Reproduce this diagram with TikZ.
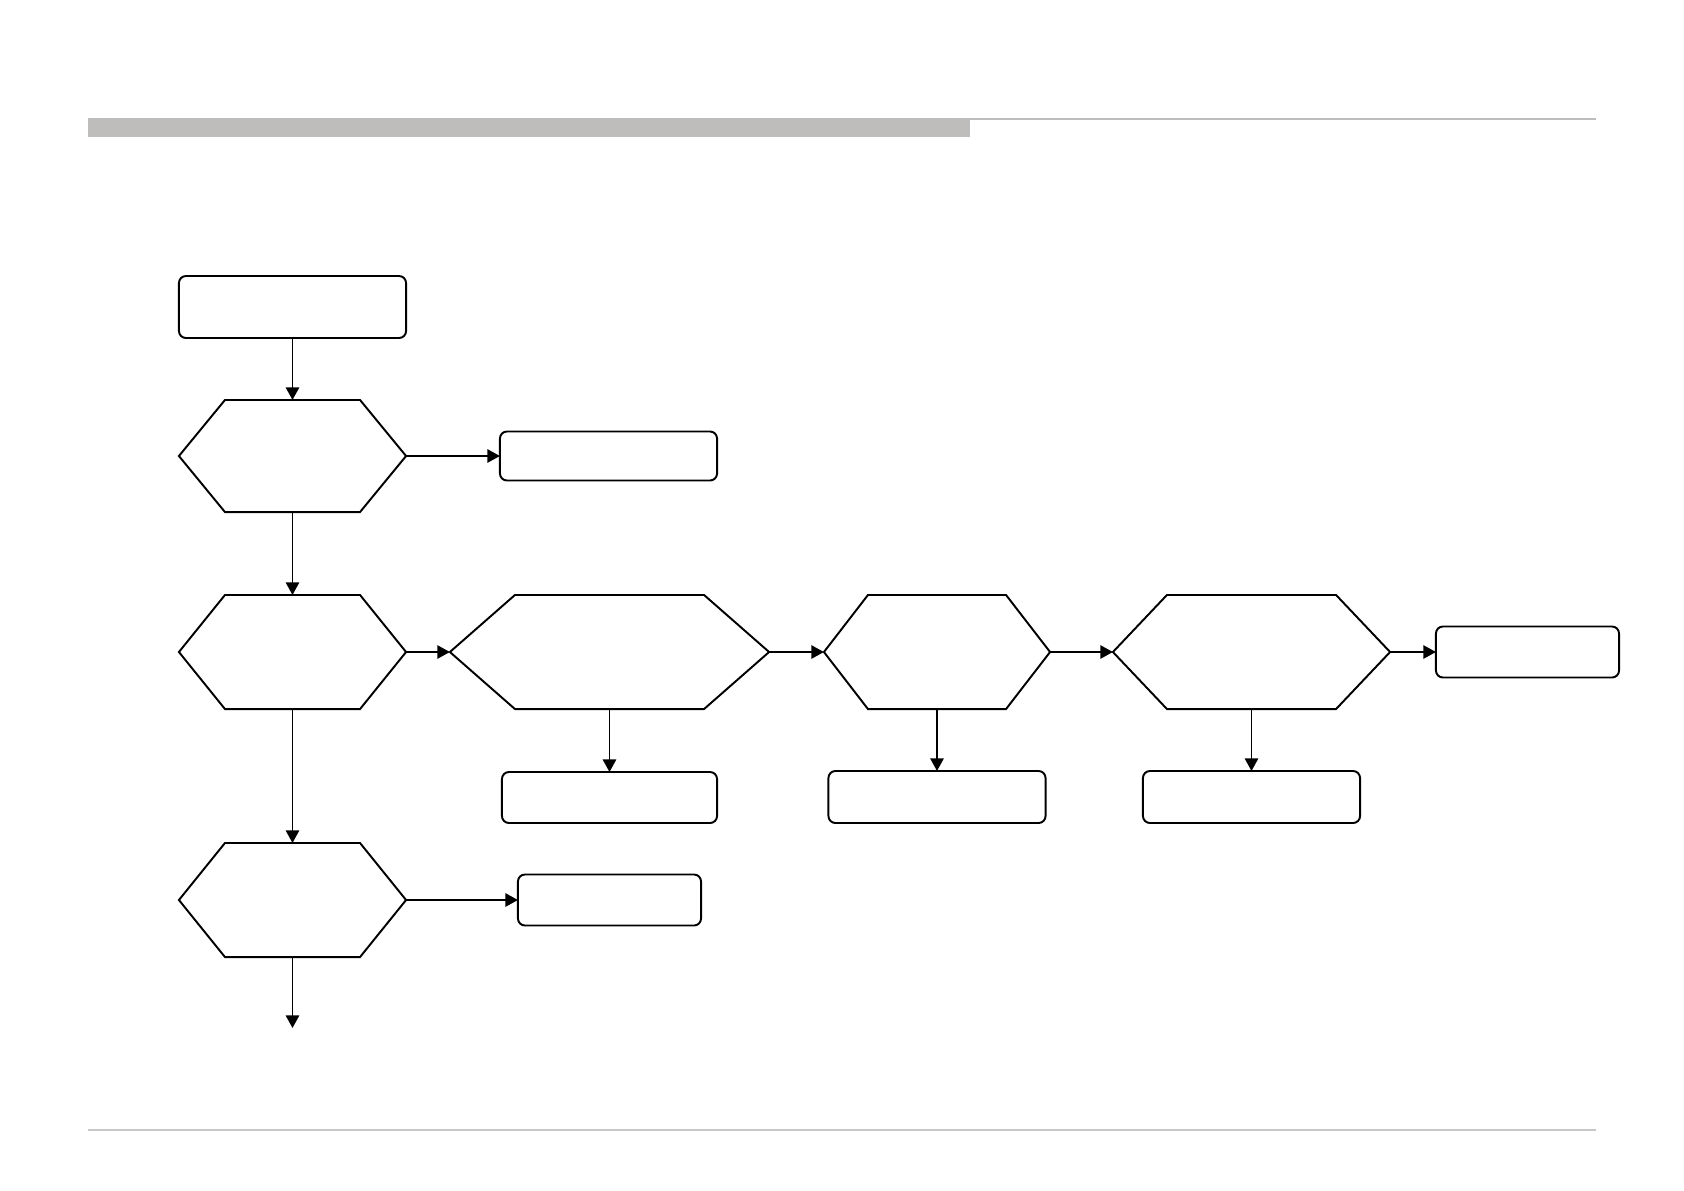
\documentclass[tikz,border=0pt]{standalone}
\usepackage{tikz}
\usepackage{xcolor}
\usetikzlibrary{arrows.meta}
\definecolor{bargray}{RGB}{190,189,187}
\definecolor{rulegray}{RGB}{200,200,200}
\tikzset{
  flowline/.style={line width=0.55pt,black},
  flow/.style={flowline,-{Triangle[length=3.6pt,width=3.8pt]}},
  hexbase/.style={inner sep=0pt,outer sep=0pt},
  termbox/.style={flowline,draw,rounded corners=2pt,inner sep=0pt,outer sep=0pt},
}
\newcommand{\hexnode}[6]{
  \node [hexbase,minimum width=#3,minimum height=#4] (#1) at #2 {};
  \draw [flowline,line join=miter] (#1.west) -- ([xshift=#5]#1.north west)
    -- ([xshift=-#5]#1.north east) -- (#1.east)
    -- ([xshift=-#5]#1.south east) -- ([xshift=#5]#1.south west) -- cycle;
}

\begin{document}
\begin{tikzpicture}[x=0.01cm,y=-0.01cm]
  \useasboundingbox (0,0) rectangle (1684,1190);
  \fill [bargray] (88,118) rectangle (970,137);
  \draw [bargray,line width=0.6pt] (970,119) -- (1596,119);
  \draw [rulegray,line width=0.4pt] (88,1130) -- (1596,1130);

  \node [termbox,minimum width=2.27cm,minimum height=0.62cm] (start) at (292.5,307) {};
  \hexnode{chkA}{(292.5,456)}{2.27cm}{1.12cm}{0.46cm}{}
  \node [termbox,minimum width=2.17cm,minimum height=0.49cm] (resA) at (608.5,456) {};

  \hexnode{chkB}{(292.5,652)}{2.27cm}{1.14cm}{0.46cm}{}
  \hexnode{chkC}{(609.5,652)}{3.19cm}{1.14cm}{0.65cm}{}
  \hexnode{chkD}{(937,652)}{2.26cm}{1.14cm}{0.44cm}{}
  \hexnode{chkE}{(1251.5,652)}{2.77cm}{1.14cm}{0.54cm}{}
  \node [termbox,minimum width=1.83cm,minimum height=0.51cm] (resE) at (1527.5,652) {};

  \node [termbox,minimum width=2.15cm,minimum height=0.51cm] (resC) at (609.5,797.5) {};
  \node [termbox,minimum width=2.17cm,minimum height=0.52cm] (resD) at (937,797) {};
  \node [termbox,minimum width=2.17cm,minimum height=0.52cm] (resF) at (1251.5,797) {};

  \hexnode{chkF}{(292.5,900)}{2.27cm}{1.14cm}{0.46cm}{}
  \node [termbox,minimum width=1.83cm,minimum height=0.51cm] (resG) at (609.5,900) {};
  \coordinate (next) at (292.5,1028);

  \draw [flow] (start) -- (chkA);
  \draw [flow] (chkA.east) -- (resA);
  \draw [flow] (chkA) -- (chkB);
  \draw [flow] (chkB.east) -- (chkC.west);
  \draw [flow] (chkC.east) -- (chkD.west);
  \draw [flow] (chkD.east) -- (chkE.west);
  \draw [flow] (chkE.east) -- (resE);
  \draw [flow] (chkC) -- (resC);
  \draw [flow] (chkD) -- (resD);
  \draw [flow] (chkE) -- (resF);
  \draw [flow] (chkB) -- (chkF);
  \draw [flow] (chkF.east) -- (resG);
  \draw [flow] (chkF) -- (next);
\end{tikzpicture}
\end{document}
